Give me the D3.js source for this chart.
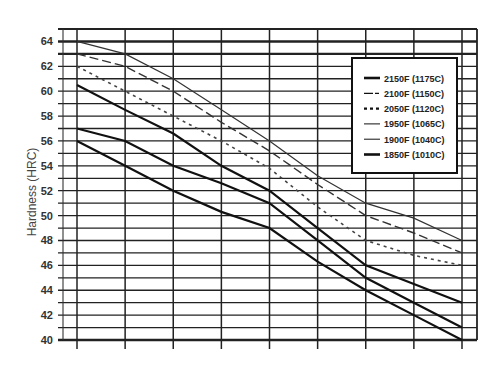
<!DOCTYPE html>
<html>
<head>
<meta charset="utf-8">
<script src="https://cdn.jsdelivr.net/npm/d3@7"></script>
<style>
  body { margin: 0; background: #fff; }
  svg { display: block; }
</style>
</head>
<body>
<svg id="chart" width="500" height="375"></svg>
<script>
// tempering steps (no labels shown on the original axis)
const steps = [0, 1, 2, 3, 4, 5, 6, 7, 8];
const yTicks = [40, 42, 44, 46, 48, 50, 52, 54, 56, 58, 60, 62, 64];

const hrc2150 = [64, 63, 61, 58.5, 56, 53.2, 51, 49.8, 48];
const hrc2100 = [63, 62, 60, 57.5, 55.2, 52.5, 50, 48.6, 47];
const hrc2050 = [62, 60, 58, 56, 53.8, 50.7, 48, 46.8, 46];
const hrc1950 = [60.5, 58.5, 56.6, 54, 52, 49, 46, 44.5, 43];
const hrc1900 = [57, 56, 54, 52.6, 51, 48, 45, 43, 41];
const hrc1850 = [56, 54, 52, 50.3, 49, 46.3, 44, 42, 40];

const seriesNames = ['2150F (1175C)', '2100F (1150C)', '2050F (1120C)', '1950F (1065C)', '1900F (1040C)', '1850F (1010C)'];
const seriesValues = [hrc2150, hrc2100, hrc2050, hrc1950, hrc1900, hrc1850];

// line look on the plot, and legend swatch look
const plotStyle = [
  { w: 1.2, dash: null, col: '#333' },
  { w: 1.4, dash: '9,4', col: '#333' },
  { w: 1.6, dash: '3,4', col: '#444' },
  { w: 2.2, dash: null, col: '#111' },
  { w: 2.2, dash: null, col: '#111' },
  { w: 2.2, dash: null, col: '#111' }
];
const legStyle = [
  { w: 2.6, dash: null },
  { w: 1.2, dash: '9,2,4,2' },
  { w: 2.2, dash: '3,3' },
  { w: 1.0, dash: null },
  { w: 1.0, dash: null },
  { w: 2.6, dash: null }
];

const svg = d3.select('#chart');

const x = d3.scaleLinear().domain([0, 8]).range([77, 462]);
const y = d3.scaleLinear().domain([40, 65]).range([340, 29]);

const left = 63, right = 477;
const grid = svg.append('g').attr('class', 'grid');

// horizontal lines every 1 HRC
d3.range(40, 66).forEach(v => {
  let w = 1.3;
  if (v === 40 || v === 63 || v === 64) w = 2.4;
  if (v === 65) w = 2;
  grid.append('line')
    .attr('x1', 58).attr('x2', right)
    .attr('y1', y(v)).attr('y2', y(v))
    .style('stroke', '#222')
    .style('stroke-width', w);
});

// vertical lines
grid.append('line')
  .attr('x1', left).attr('x2', left)
  .attr('y1', y(65)).attr('y2', y(40))
  .style('stroke', '#333').style('stroke-width', 1.1);
grid.append('line')
  .attr('x1', right).attr('x2', right)
  .attr('y1', y(65)).attr('y2', y(40))
  .style('stroke', '#222').style('stroke-width', 1.8);
steps.forEach(s => {
  grid.append('line')
    .attr('x1', x(s)).attr('x2', x(s))
    .attr('y1', y(65)).attr('y2', 349)
    .style('stroke', '#222')
    .style('stroke-width', 1.5);
});

// y labels
const yAxis = svg.append('g');
yTicks.forEach(t => {
  yAxis.append('text')
    .attr('x', 53)
    .attr('y', y(t) + 4)
    .attr('text-anchor', 'end')
    .style('font-family', 'Liberation Sans Narrow, Liberation Sans, Arial, sans-serif')
    .style('font-size', '11px')
    .style('font-weight', 'bold')
    .style('fill', '#333')
    .text(t);
});

svg.append('text')
  .attr('transform', 'translate(36,192) rotate(-90)')
  .attr('text-anchor', 'middle')
  .style('font-family', 'Liberation Sans, Arial, sans-serif')
  .style('font-size', '12px')
  .style('fill', '#444')
  .text('Hardness (HRC)');

// data lines
const line = d3.line()
  .x((d, i) => x(steps[i]))
  .y(d => y(d));

seriesValues.forEach((vals, i) => {
  svg.append('path')
    .datum(vals)
    .attr('d', line)
    .style('fill', 'none')
    .style('stroke', plotStyle[i].col)
    .style('stroke-width', plotStyle[i].w)
    .style('stroke-dasharray', plotStyle[i].dash);
});

// legend
const leg = svg.append('g').attr('class', 'legend');
leg.append('rect')
  .attr('x', 352).attr('y', 58)
  .attr('width', 105).attr('height', 115)
  .style('fill', '#fff')
  .style('stroke', '#111')
  .style('stroke-width', 2);

seriesNames.forEach((name, i) => {
  const ly = 78 + i * 15.3;
  leg.append('line')
    .attr('x1', 364).attr('x2', 380)
    .attr('y1', ly).attr('y2', ly)
    .style('stroke', '#111')
    .style('stroke-width', legStyle[i].w)
    .style('stroke-dasharray', legStyle[i].dash);
  leg.append('text')
    .attr('x', 384)
    .attr('y', ly + 3.5)
    .style('font-family', 'Liberation Sans Narrow, Liberation Sans, Arial, sans-serif')
    .style('font-size', '9px')
    .style('font-weight', 'bold')
    .style('fill', '#222')
    .text(name);
});
</script>
</body>
</html>
